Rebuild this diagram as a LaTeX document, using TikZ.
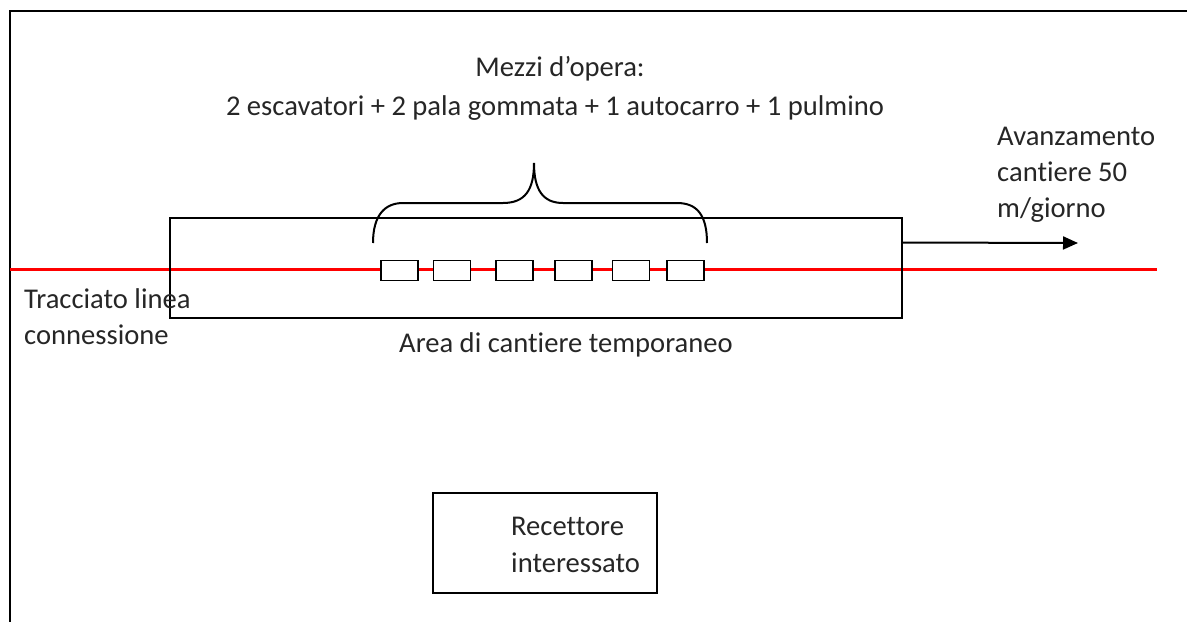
\documentclass[tikz,border=0pt]{standalone}
\usepackage{fontspec}
\setmainfont{Carlito}[Ligatures=CommonOff]
\usetikzlibrary{arrows.meta,calc}
\definecolor{txt}{RGB}{38,38,38}
\definecolor{redline}{RGB}{255,0,0}
\begin{document}
\begin{tikzpicture}[x=1pt,y=-1pt,
  lbl/.style={inner sep=0pt,text=txt,font=\fontsize{28.6}{36}\selectfont},
  boxframe/.style={draw=black,line width=2pt,inner sep=0pt},
  machine/.style={draw=black,fill=white,line width=1.6pt,minimum width=37pt,minimum height=20pt,inner sep=0pt},
  track/.style={draw=redline,line width=3pt},
  frame/.style={draw=black,line width=2.2pt}]
\useasboundingbox (0,0) rectangle (1187,622);
% outer frame
\coordinate (fr) at (1187,11);
\coordinate (fc) at (10,11);
\coordinate (fb) at (10,622);
\draw[frame] (fr) -- (fc) -- (fb);
% red track
\coordinate (ta) at (10,269);
\coordinate (tb) at (1157,269);
\draw[track] (ta) -- (tb);
% area rectangle
\node[boxframe,minimum width=732pt,minimum height=100pt] (area) at (536,268) {};
% machines
\foreach \n/\x in {1/399.5,2/452,3/514.5,4/573.5,5/631,6/685.5}
  \node[machine] (m\n) at (\x,270.5) {};
% brace
\draw[line width=2pt] (373,243) .. controls (373,215) and (385,203) .. (403,203) -- (503,203)
  .. controls (525,203) and (534,190) .. (534,163)
  .. controls (534,190) and (543,203) .. (563,203) -- (677,203)
  .. controls (697,203) and (707,215) .. (707,243);
% arrow
\coordinate (as) at ($(area.north east)!0.25!(area.south east)$);
\coordinate (ae) at (1078,243);
\draw[line width=2pt,-{Triangle[length=15pt,width=13pt]}] (as) -- (ae);
% receptor box
\node[boxframe,minimum width=224pt,minimum height=100pt] (rec) at (545,543) {};
% texts
\node[lbl,anchor=base] (t1) at (560,76) {Mezzi d’opera:};
\node[lbl,anchor=base] (t2) at (555,115) {2 escavatori + 2 pala gommata + 1 autocarro + 1 pulmino};
\node[lbl,anchor=base west] (av1) at (997,145) {Avanzamento};
\node[lbl,anchor=base west] (av2) at (997,181) {cantiere 50};
\node[lbl,anchor=base west] (av3) at (997,217) {m/giorno};
\node[lbl,anchor=base west] (tr1) at (24,308) {Tracciato linea};
\node[lbl,anchor=base west] (tr2) at (24,344) {connessione};
\node[lbl,anchor=base west] (ar) at (399,352) {Area di cantiere temporaneo};
\node[lbl,anchor=base west] (r1) at (511,535) {Recettore};
\node[lbl,anchor=base west] (r2) at (511,572) {interessato};
\end{tikzpicture}
\end{document}
